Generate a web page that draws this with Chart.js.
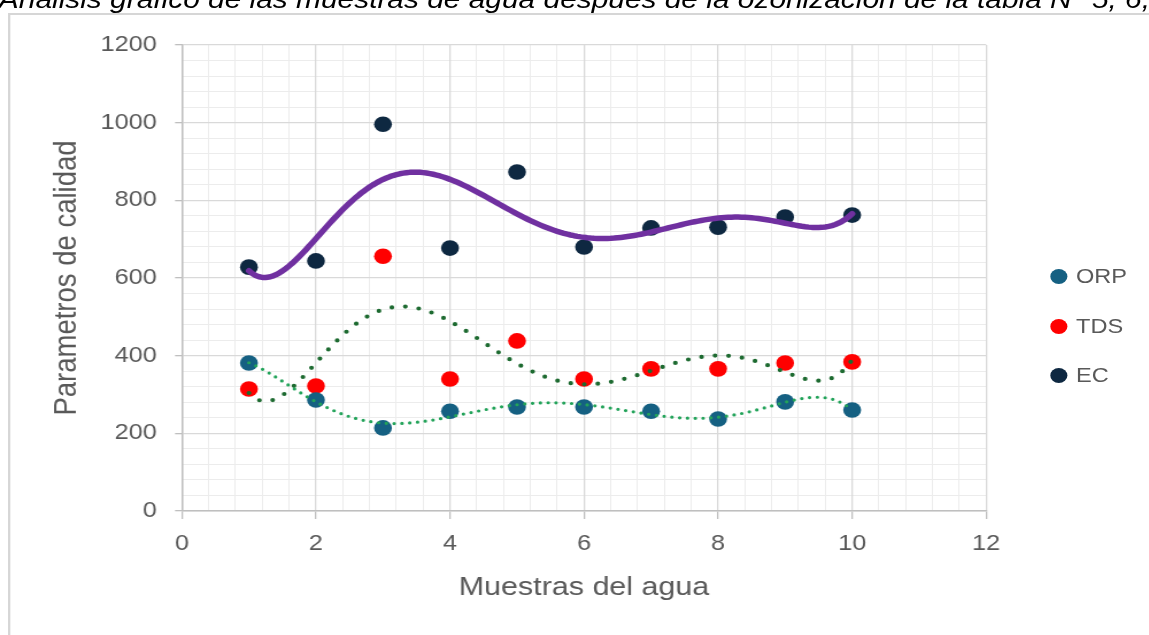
<!DOCTYPE html>
<html lang="es">
<head>
<meta charset="utf-8">
<title>Parámetros de calidad</title>
<script src="https://cdn.jsdelivr.net/npm/chart.js@4.4.1/dist/chart.umd.min.js"></script>
<style>
  html, body { margin:0; padding:0; width:1149px; height:635px; overflow:hidden; background:#fff; }
  #stage { position:absolute; left:0; top:0; width:1000px; height:635px; transform:scaleX(1.149); transform-origin:0 0; }
  #caption { position:absolute; left:-1px; top:-14px; margin:0; white-space:nowrap; font:italic 26px "Liberation Sans", Arial, sans-serif; line-height:1; color:#000; }
  #frame { position:absolute; left:7px; top:13px; width:1200px; height:700px; border:2px solid #d6d6d6; box-sizing:border-box; }
  #chartBox { position:absolute; left:0; top:0; width:1000px; height:635px; }
  .lg { position:absolute; left:913.5px; height:20px; display:flex; align-items:center; font:20.5px "Liberation Sans", Arial, sans-serif; color:#595959; white-space:nowrap; }
  .lg i { display:inline-block; width:15px; height:15px; border-radius:50%; margin-right:8px; }
</style>
</head>
<body>
<div id="stage">
  <div id="caption"></div>
  <div id="frame"></div>
  <div id="chartBox"><canvas id="c"></canvas></div>
  <div id="legend"></div>
</div>
<script>
// ---- data ----
const muestras   = [1, 2, 3, 4, 5, 6, 7, 8, 9, 10];
const orpValues  = [381, 286, 214, 257, 268, 268, 257, 237, 281, 260];
const tdsValues  = [314, 322, 656, 340, 438, 340, 366, 366, 381, 384];
const ecValues   = [628, 644, 996, 677, 873, 680, 729, 731, 757, 762];
const seriesNames = ['ORP', 'TDS', 'EC'];
const xTickValues = [0, 2, 4, 6, 8, 10, 12];
const yTickValues = [0, 200, 400, 600, 800, 1000, 1200];
const xAxisTitle = 'Muestras del agua';
const yAxisTitle = 'Parametros de calidad';
const captionText = 'Análisis gráfico de las muestras de agua después de la ozonización de la tabla N° 5, 6, 8';
const trendOrder = 6; // polynomial trendline order (as in the spreadsheet chart)

// ---- styles ----
const FONT = '"Liberation Sans", Arial, sans-serif';
const TEXT = '#595959';
const pointColors = ['#156082', '#FF0000', '#0E2841'];
const trendStyles = [
  { color: '#23a35a', width: 3.2, dash: [0, 6.8] },
  { color: '#1d6a30', width: 4.2, dash: [0, 11.8] },
  { color: '#7030A0', width: 5.5, dash: [] }
];

document.getElementById('caption').textContent = captionText;

// least-squares polynomial regression (trendline) of a series
function polyFit(xs, ys, deg) {
  const mean = xs.reduce((a, b) => a + b, 0) / xs.length;
  const half = (Math.max(...xs) - Math.min(...xs)) / 2 || 1;
  const n = deg + 1;
  const A = Array.from({ length: n }, () => new Array(n + 1).fill(0));
  xs.forEach((x, i) => {
    const t = (x - mean) / half;
    const pw = []; let p = 1;
    for (let k = 0; k < 2 * n; k++) { pw.push(p); p *= t; }
    for (let r = 0; r < n; r++) {
      for (let c = 0; c < n; c++) A[r][c] += pw[r + c];
      A[r][n] += pw[r] * ys[i];
    }
  });
  for (let c = 0; c < n; c++) {
    let piv = c;
    for (let r = c + 1; r < n; r++) if (Math.abs(A[r][c]) > Math.abs(A[piv][c])) piv = r;
    [A[c], A[piv]] = [A[piv], A[c]];
    for (let r = 0; r < n; r++) {
      if (r === c) continue;
      const f = A[r][c] / A[c][c];
      for (let k = c; k <= n; k++) A[r][k] -= f * A[c][k];
    }
  }
  const coef = A.map((row, i) => row[n] / row[i]);
  return x => { const t = (x - mean) / half; let s = 0, p = 1; for (const c of coef) { s += c * p; p *= t; } return s; };
}

function trendPoints(ys) {
  const f = polyFit(muestras, ys, trendOrder);
  const pts = [];
  const x0 = muestras[0], x1 = muestras[muestras.length - 1];
  for (let x = x0; x <= x1 + 1e-9; x += 0.05) pts.push({ x: x, y: f(x) });
  return pts;
}

const allValues = [orpValues, tdsValues, ecValues];
const datasets = [];
allValues.forEach((vals, i) => {
  datasets.push({
    label: seriesNames[i],
    data: muestras.map((m, k) => ({ x: m, y: vals[k] })),
    xAxisID: 'x', yAxisID: 'y',
    pointRadius: 7.8, pointHoverRadius: 7.8,
    pointBackgroundColor: pointColors[i], pointBorderColor: pointColors[i], pointBorderWidth: 0,
    showLine: false, order: 2
  });
});
allValues.forEach((vals, i) => {
  const st = trendStyles[i];
  datasets.push({
    label: 'trend ' + seriesNames[i],
    data: trendPoints(vals),
    xAxisID: 'x', yAxisID: 'y',
    showLine: true, pointRadius: 0, pointHoverRadius: 0,
    borderColor: st.color, borderWidth: st.width, borderDash: st.dash,
    borderCapStyle: 'round', borderJoinStyle: 'round', tension: 0,
    fill: false, order: 1
  });
});

const isMult = (v, m) => Math.abs(Math.round(v / m) * m - v) < 1e-6;

new Chart(document.getElementById('c'), {
  type: 'scatter',
  data: { datasets: datasets },
  options: {
    responsive: true, maintainAspectRatio: false, animation: false,
    layout: { padding: { left: 0, right: 141.7, top: 45, bottom: 0 } },
    plugins: { legend: { display: false }, tooltip: { enabled: false }, title: { display: false } },
    events: [],
    scales: {
      xMinor: {
        type: 'linear', position: 'bottom', min: 0, max: 12,
        afterBuildTicks: s => { const t = []; for (let i = 0; i <= 30; i++) t.push({ value: i * 0.4 }); s.ticks = t; },
        afterFit: s => { s.height = 0; },
        ticks: { display: false },
        grid: { drawTicks: false, lineWidth: 1, color: c => isMult(c.tick.value, 2) ? 'rgba(0,0,0,0)' : '#ececec' },
        border: { display: false }
      },
      yMinor: {
        type: 'linear', position: 'left', min: 0, max: 1200,
        afterBuildTicks: s => { const t = []; for (let i = 0; i <= 30; i++) t.push({ value: i * 40 }); s.ticks = t; },
        afterFit: s => { s.width = 0; },
        ticks: { display: false },
        grid: { drawTicks: false, lineWidth: 1, color: c => isMult(c.tick.value, 200) ? 'rgba(0,0,0,0)' : '#ececec' },
        border: { display: false }
      },
      x: {
        type: 'linear', position: 'bottom', min: 0, max: 12,
        afterBuildTicks: s => { s.ticks = xTickValues.map(v => ({ value: v })); },
        afterFit: s => { s.height = 124; },
        ticks: { color: TEXT, font: { family: FONT, size: 22 }, padding: 12, maxRotation: 0, autoSkip: false, callback: v => String(v) },
        grid: { color: '#d9d9d9', lineWidth: 1.3, tickLength: 8, tickColor: '#bfbfbf', tickWidth: 1.3 },
        border: { color: '#bfbfbf', width: 1.5 },
        title: { display: true, text: xAxisTitle, color: TEXT, font: { family: FONT, size: 26.5 }, padding: { top: 0, bottom: 31 } }
      },
      y: {
        type: 'linear', position: 'left', min: 0, max: 1200,
        afterBuildTicks: s => { s.ticks = yTickValues.map(v => ({ value: v })); },
        afterFit: s => { s.width = 158.3; },
        ticks: { color: TEXT, font: { family: FONT, size: 22 }, padding: 15.8, autoSkip: false, callback: v => String(v) },
        grid: { color: '#d9d9d9', lineWidth: 1.3, tickLength: 6, tickColor: '#bfbfbf', tickWidth: 1.3 },
        border: { color: '#bfbfbf', width: 1.5 },
        title: { display: true, text: yAxisTitle, color: TEXT, font: { family: FONT, size: 27.5 }, padding: { top: 42.2, bottom: 0 } }
      }
    }
  }
});

// legend (markers of the three measured series)
const legendTops = [276, 326, 375];
const legendEl = document.getElementById('legend');
seriesNames.forEach((name, i) => {
  const d = document.createElement('div');
  d.className = 'lg';
  d.style.top = (legendTops[i] - 10) + 'px';
  const dot = document.createElement('i');
  dot.style.background = pointColors[i];
  d.appendChild(dot);
  d.appendChild(document.createTextNode(name));
  legendEl.appendChild(d);
});
</script>
</body>
</html>
